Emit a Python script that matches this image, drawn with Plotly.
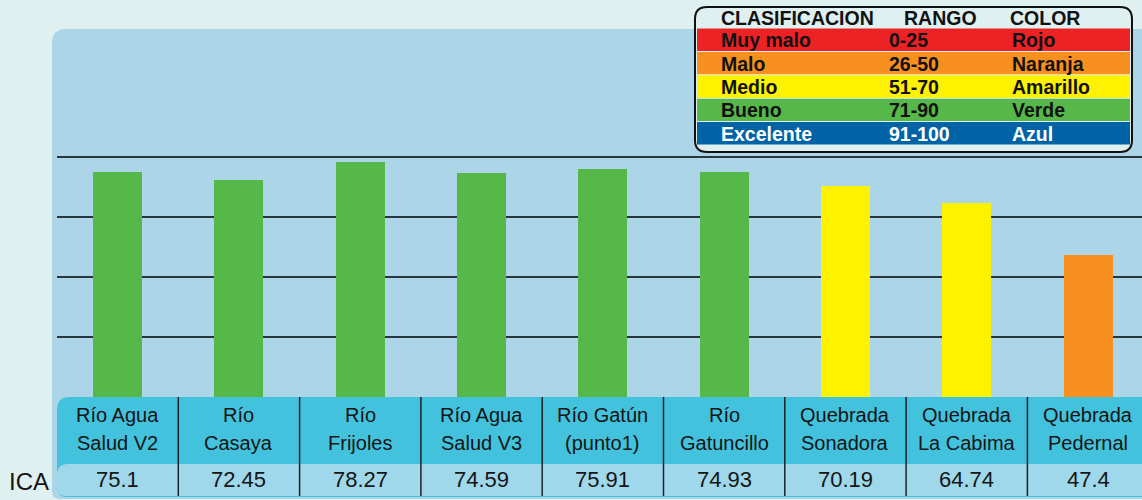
import plotly.graph_objects as go

# ---------------- data ----------------
categories = ["Río Agua<br>Salud V2", "Río<br>Casaya", "Río<br>Frijoles",
              "Río Agua<br>Salud V3", "Río Gatún<br>(punto1)", "Río<br>Gatuncillo",
              "Quebrada<br>Sonadora", "Quebrada<br>La Cabima", "Quebrada<br>Pedernal"]
ica_values = [75.1, 72.45, 78.27, 74.59, 75.91, 74.93, 70.19, 64.74, 47.4]
row_label = "ICA"
grid_values = [20, 40, 60, 80]

legend_headers = ["CLASIFICACION", "RANGO", "COLOR"]
class_names = ["Muy malo", "Malo", "Medio", "Bueno", "Excelente"]
class_ranges = ["0-25", "26-50", "51-70", "71-90", "91-100"]
class_color_names = ["Rojo", "Naranja", "Amarillo", "Verde", "Azul"]

# ---------------- style ----------------
class_fill = ["#ed2224", "#f7901e", "#fff200", "#57b84a", "#0063a6"]
class_text = ["#111111", "#111111", "#111111", "#111111", "#ffffff"]
PAGE_BG = "#dff0f1"
PANEL = "#acd5e8"
HEAD_CYAN = "#42c2dc"
VALUE_ROW = "#9ed8ea"
FONT = "Liberation Sans, Arial, sans-serif"

W, H = 1142, 500
PLOT_LEFT, PLOT_BOTTOM = 57, 397
PX_PER_UNIT = 3.0
COL_W = 121.3


def X(px):
    return px / W


def Y(py):
    return 1 - py / H


def rrect(x0, y0, x1, y1, tl=0, tr=0, br=0, bl=0):
    pts = [
        f"M {X(x0 + tl)},{Y(y0)}",
        f"L {X(x1 - tr)},{Y(y0)}",
        f"Q {X(x1)},{Y(y0)} {X(x1)},{Y(y0 + tr)}",
        f"L {X(x1)},{Y(y1 - br)}",
        f"Q {X(x1)},{Y(y1)} {X(x1 - br)},{Y(y1)}",
        f"L {X(x0 + bl)},{Y(y1)}",
        f"Q {X(x0)},{Y(y1)} {X(x0)},{Y(y1 - bl)}",
        f"L {X(x0)},{Y(y0 + tl)}",
        f"Q {X(x0)},{Y(y0)} {X(x0 + tl)},{Y(y0)}",
        "Z",
    ]
    return " ".join(pts)


lowers = [float(r.split("-")[0]) for r in class_ranges]


def class_index(v):
    idx = 0
    for i, lo in enumerate(lowers):
        if v >= lo:
            idx = i
    return idx


bar_colors = [class_fill[class_index(v)] for v in ica_values]
xs = list(range(len(categories)))

fig = go.Figure()
fig.add_trace(go.Bar(
    x=xs, y=ica_values, marker=dict(color=bar_colors, line=dict(width=0)),
    width=49 / COL_W, hoverinfo="skip", showlegend=False,
))

shapes = []
annotations = []

# panel
shapes.append(dict(type="path", xref="paper", yref="paper", layer="below",
                   path=rrect(52, 29, 1175, 499, tl=14, bl=8),
                   fillcolor=PANEL, line=dict(width=0)))

# bottom table
shapes.append(dict(type="path", xref="paper", yref="paper", layer="above",
                   path=rrect(57, 397, 1175, 497, tl=13, bl=10),
                   fillcolor=HEAD_CYAN, line=dict(width=0)))
shapes.append(dict(type="path", xref="paper", yref="paper", layer="above",
                   path=rrect(57, 464, 1175, 496, tl=11, bl=9),
                   fillcolor=VALUE_ROW, line=dict(width=0)))
for i in range(len(categories) - 1):
    shapes.append(dict(type="line", xref="x", yref="paper", layer="above",
                       x0=i + 0.5, x1=i + 0.5, y0=Y(397), y1=Y(496),
                       line=dict(color="#1c2326", width=1.5)))

for i, (cat, v) in enumerate(zip(categories, ica_values)):
    lines = cat.split("<br>")
    for j, ln in enumerate(lines):
        annotations.append(dict(x=i, y=Y(415 + 28 * j), xref="x", yref="paper",
                                text=ln, showarrow=False, xanchor="center", yanchor="middle",
                                font=dict(family=FONT, size=20, color="#151515")))
    annotations.append(dict(x=i, y=Y(479.5), xref="x", yref="paper",
                            text=str(v), showarrow=False, xanchor="center", yanchor="middle",
                            font=dict(family=FONT, size=22, color="#151515")))
annotations.append(dict(x=X(7), y=Y(481), xref="paper", yref="paper", text=row_label,
                        showarrow=False, xanchor="left", yanchor="middle",
                        font=dict(family=FONT, size=24, color="#151515")))

# classification legend table
LX0, LY0, LX1, LY1 = 695, 7, 1132, 152
shapes.append(dict(type="path", xref="paper", yref="paper", layer="above",
                   path=rrect(LX0, LY0, LX1, LY1, 12, 12, 12, 12),
                   fillcolor=PAGE_BG, line=dict(color="#111111", width=2)))
row_top, row_h = 28, 23.4
col_x = [719, 887, 1010]
head_x = [719, 902, 1008]
for k, hdr in enumerate(legend_headers):
    annotations.append(dict(x=X(head_x[k]), y=Y(18), xref="paper", yref="paper",
                            text=f"<b>{hdr}</b>", showarrow=False, xanchor="left",
                            yanchor="middle", font=dict(family=FONT, size=19.5, color="#111111")))
for r in range(len(class_names)):
    t = row_top + r * row_h
    shapes.append(dict(type="rect", xref="paper", yref="paper", layer="above",
                       x0=X(697), x1=X(1130), y0=Y(t + 0.5), y1=Y(t + row_h - 0.5),
                       fillcolor=class_fill[r], line=dict(width=0)))
    for k, txt in enumerate([class_names[r], class_ranges[r], class_color_names[r]]):
        annotations.append(dict(x=X(col_x[k]), y=Y(t + row_h / 2 + 0.5), xref="paper",
                                yref="paper", text=f"<b>{txt}</b>", showarrow=False,
                                xanchor="left", yanchor="middle",
                                font=dict(family=FONT, size=19.5, color=class_text[r])))

fig.update_layout(
    width=W, height=H,
    margin=dict(l=0, r=0, t=0, b=0),
    paper_bgcolor=PAGE_BG, plot_bgcolor="rgba(0,0,0,0)",
    showlegend=False, bargap=0,
    shapes=shapes, annotations=annotations,
    xaxis=dict(domain=[X(PLOT_LEFT), 1], range=[-0.5, -0.5 + (W - PLOT_LEFT) / COL_W],
               showgrid=False, zeroline=False, showticklabels=False, ticks="",
               showline=False, fixedrange=True),
    yaxis=dict(domain=[Y(PLOT_BOTTOM), 1], range=[0, PLOT_BOTTOM / PX_PER_UNIT],
               tickvals=grid_values, showticklabels=False, ticks="",
               showgrid=True, gridcolor="#2a363e", gridwidth=1.5,
               zeroline=False, showline=False, fixedrange=True),
)

fig.write_html(
    "out.html",
    config={"displayModeBar": False},
    post_script=("document.body.style.margin='0';document.body.style.padding='0';"
                 "document.body.style.overflow='hidden';"
                 "document.body.style.background='" + PAGE_BG + "';"),
)
